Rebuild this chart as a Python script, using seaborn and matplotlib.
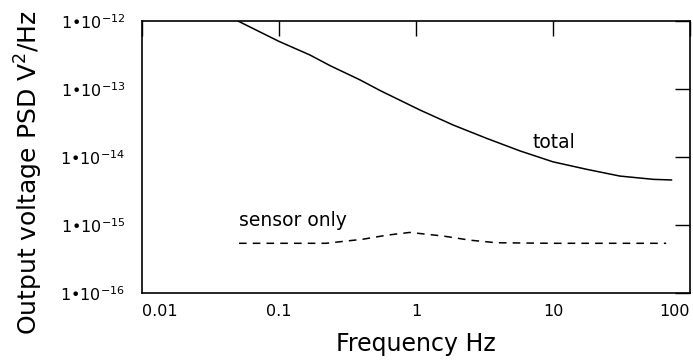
"""
Output voltage PSD vs frequency: total noise and sensor-only contribution.
"""

import numpy as np
import pandas as pd
import matplotlib
matplotlib.use("Agg")
import matplotlib.pyplot as plt
import seaborn as sns

# Data
total_freq = [0.05, 0.1, 0.168, 0.236, 0.39, 0.546, 1.07, 1.87, 3.28, 5.74,
              10.0, 17.6, 30.8, 54.0, 73.5]
total_psd = [1.0e-12, 5.0e-13, 3.16e-13, 2.2e-13, 1.36e-13, 9.5e-14, 4.9e-14,
             2.95e-14, 1.88e-14, 1.23e-14, 8.5e-15, 6.6e-15, 5.25e-15,
             4.7e-15, 4.6e-15]

sensor_freq = [0.051, 0.22, 0.41, 0.61, 0.9, 1.58, 2.48, 3.88, 10.0, 67.0]
sensor_psd = [5.4e-16, 5.4e-16, 6.2e-16, 7.1e-16, 7.8e-16, 6.9e-16, 6.0e-16,
              5.5e-16, 5.4e-16, 5.4e-16]

x_ticks = [0.01, 0.1, 1, 10, 100]
x_tick_labels = ["0.01", "0.1", "1", "10", "100"]
y_ticks = [1e-16, 1e-15, 1e-14, 1e-13, 1e-12]
y_tick_labels = ["1•10$^{-16}$", "1•10$^{-15}$", "1•10$^{-14}$",
                 "1•10$^{-13}$", "1•10$^{-12}$"]

df = pd.concat([
    pd.DataFrame({"freq": total_freq, "psd": total_psd, "curve": "total"}),
    pd.DataFrame({"freq": sensor_freq, "psd": sensor_psd, "curve": "sensor only"}),
])

sns.set_style("white")
plt.rcParams["font.family"] = ["DejaVu Sans"]
plt.rcParams["mathtext.fontset"] = "dejavusans"
plt.rcParams["text.color"] = "black"
plt.rcParams["axes.labelcolor"] = "black"

fig = plt.figure(figsize=(6.93, 3.61), dpi=100)
ax = fig.add_axes([0.205, 0.188, 0.7907, 0.754])

sns.lineplot(data=df, x="freq", y="psd", hue="curve", style="curve",
             palette={"total": "black", "sensor only": "black"},
             dashes={"total": "", "sensor only": (5, 4)},
             linewidth=1.1, legend=False, ax=ax)

ax.set_xscale("log")
ax.set_yscale("log")
ax.set_xlim(0.01, 100)
ax.set_ylim(1e-16, 1e-12)

ax.set_xticks(x_ticks)
ax.set_xticklabels(x_tick_labels)
ax.set_yticks(y_ticks)
ax.set_yticklabels(y_tick_labels)
ax.minorticks_off()
ax.tick_params(which="major", direction="in", length=11, width=1.0,
               top=True, right=True, labelsize=11.5, colors="black")
ax.tick_params(axis="x", pad=8)
ax.tick_params(axis="y", pad=12)
labels = ax.get_xticklabels()
labels[0].set_ha("left")
labels[-1].set_ha("right")

for spine in ax.spines.values():
    spine.set_color("black")
    spine.set_linewidth(1.2)

ax.set_xlabel("Frequency Hz", fontsize=17, labelpad=9)
ax.set_ylabel("Output voltage PSD V$^2$/Hz", fontsize=18)
ax.yaxis.set_label_coords(-0.177, 0.441)

ax.text(10.2, 1.66e-14, "total", fontsize=13.5, ha="center", va="center")
ax.text(0.126, 1.15e-15, "sensor only", fontsize=13.5, ha="center", va="center")

fig.savefig("out.png", dpi=100)
plt.close(fig)
